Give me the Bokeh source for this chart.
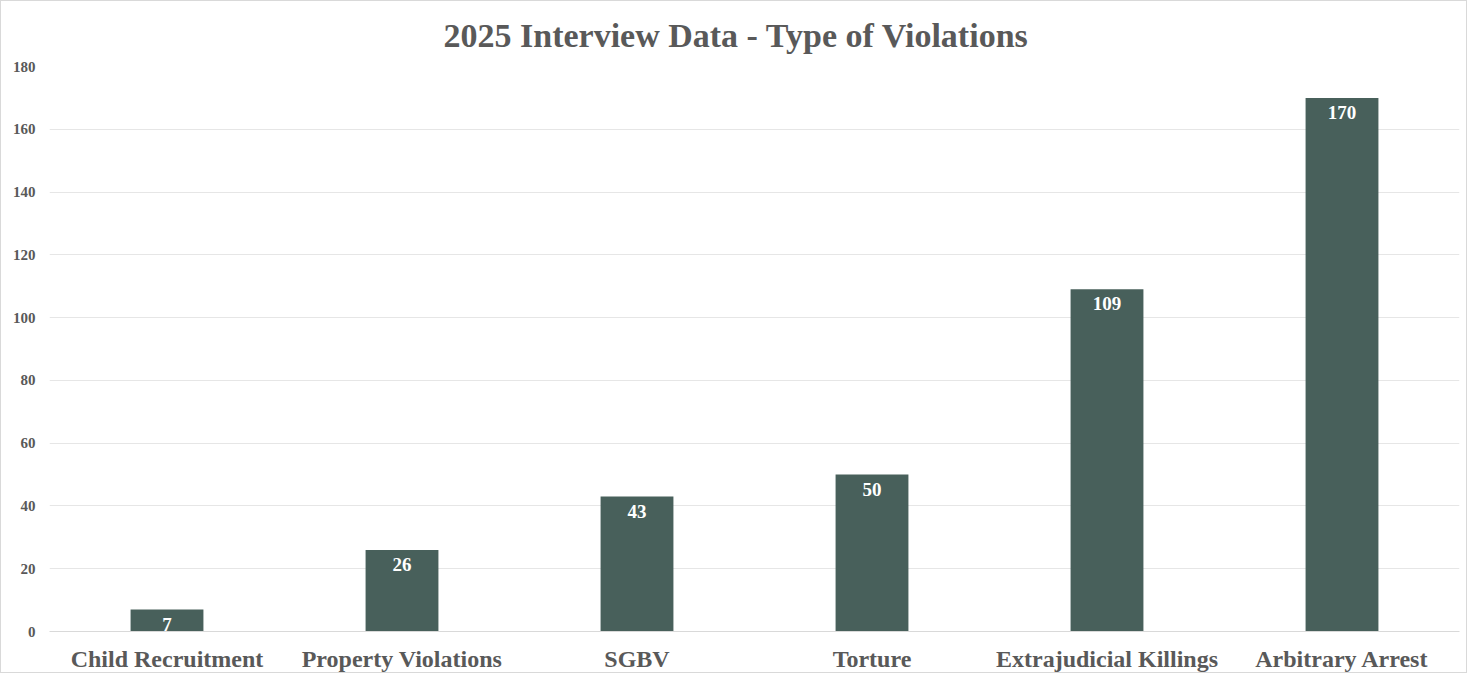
from bokeh.plotting import figure
from bokeh.models import ColumnDataSource, LabelSet, Range1d, FixedTicker, Title
from bokeh.embed import file_html
from bokeh.resources import INLINE

categories = ["Child Recruitment", "Property Violations", "SGBV", "Torture",
              "Extrajudicial Killings", "Arbitrary Arrest"]
counts = [7, 26, 43, 50, 109, 170]
y_ticks = [0, 20, 40, 60, 80, 100, 120, 140, 160, 180]

FONT = "Liberation Serif"
GREY = "#595959"
BAR = "#48605B"

src = ColumnDataSource(dict(cat=categories, val=counts, lbl=[str(v) for v in counts]))

p = figure(x_range=categories, y_range=Range1d(0, 180), width=1467, height=673,
           output_backend="svg", toolbar_location=None,
           min_border_left=48, min_border_right=9, min_border_top=65, min_border_bottom=37)
p.title = None
p.vbar(x="cat", top="val", width=0.31, source=src, color=BAR, line_color=None)

p.add_layout(LabelSet(x="cat", y="val", text="lbl", source=src, y_offset=-8,
                      text_align="center", text_baseline="top",
                      text_color="white", text_font=FONT, text_font_style="bold",
                      text_font_size="19px"))

t = Title(text="2025 Interview Data - Type of Violations", align="left",
          text_font=FONT, text_font_style="bold", text_font_size="34px",
          text_color=GREY, offset=394, standoff=26)
p.add_layout(t, "above")

p.outline_line_color = None
p.xgrid.grid_line_color = None
p.ygrid.grid_line_color = "#E6E6E6"
p.ygrid.grid_line_width = 1
p.yaxis.ticker = FixedTicker(ticks=y_ticks)
p.yaxis.axis_line_color = None
p.yaxis.major_tick_line_color = None
p.yaxis.minor_tick_line_color = None
p.yaxis.major_label_text_font = FONT
p.yaxis.major_label_text_font_style = "bold"
p.yaxis.major_label_text_font_size = "15px"
p.yaxis.major_label_text_color = GREY
p.yaxis.major_label_standoff = 8

p.xaxis.axis_line_color = "#D9D9D9"
p.xaxis.major_tick_line_color = None
p.xaxis.minor_tick_line_color = None
p.xaxis.major_label_text_font = FONT
p.xaxis.major_label_text_font_style = "bold"
p.xaxis.major_label_text_font_size = "24px"
p.xaxis.major_label_text_color = GREY
p.xaxis.major_label_standoff = 8
p.x_range.range_padding = 0

p.styles = {"border": "1px solid #D9D9D9", "box-sizing": "border-box"}

open("out.html", "w").write(file_html(p, INLINE))
